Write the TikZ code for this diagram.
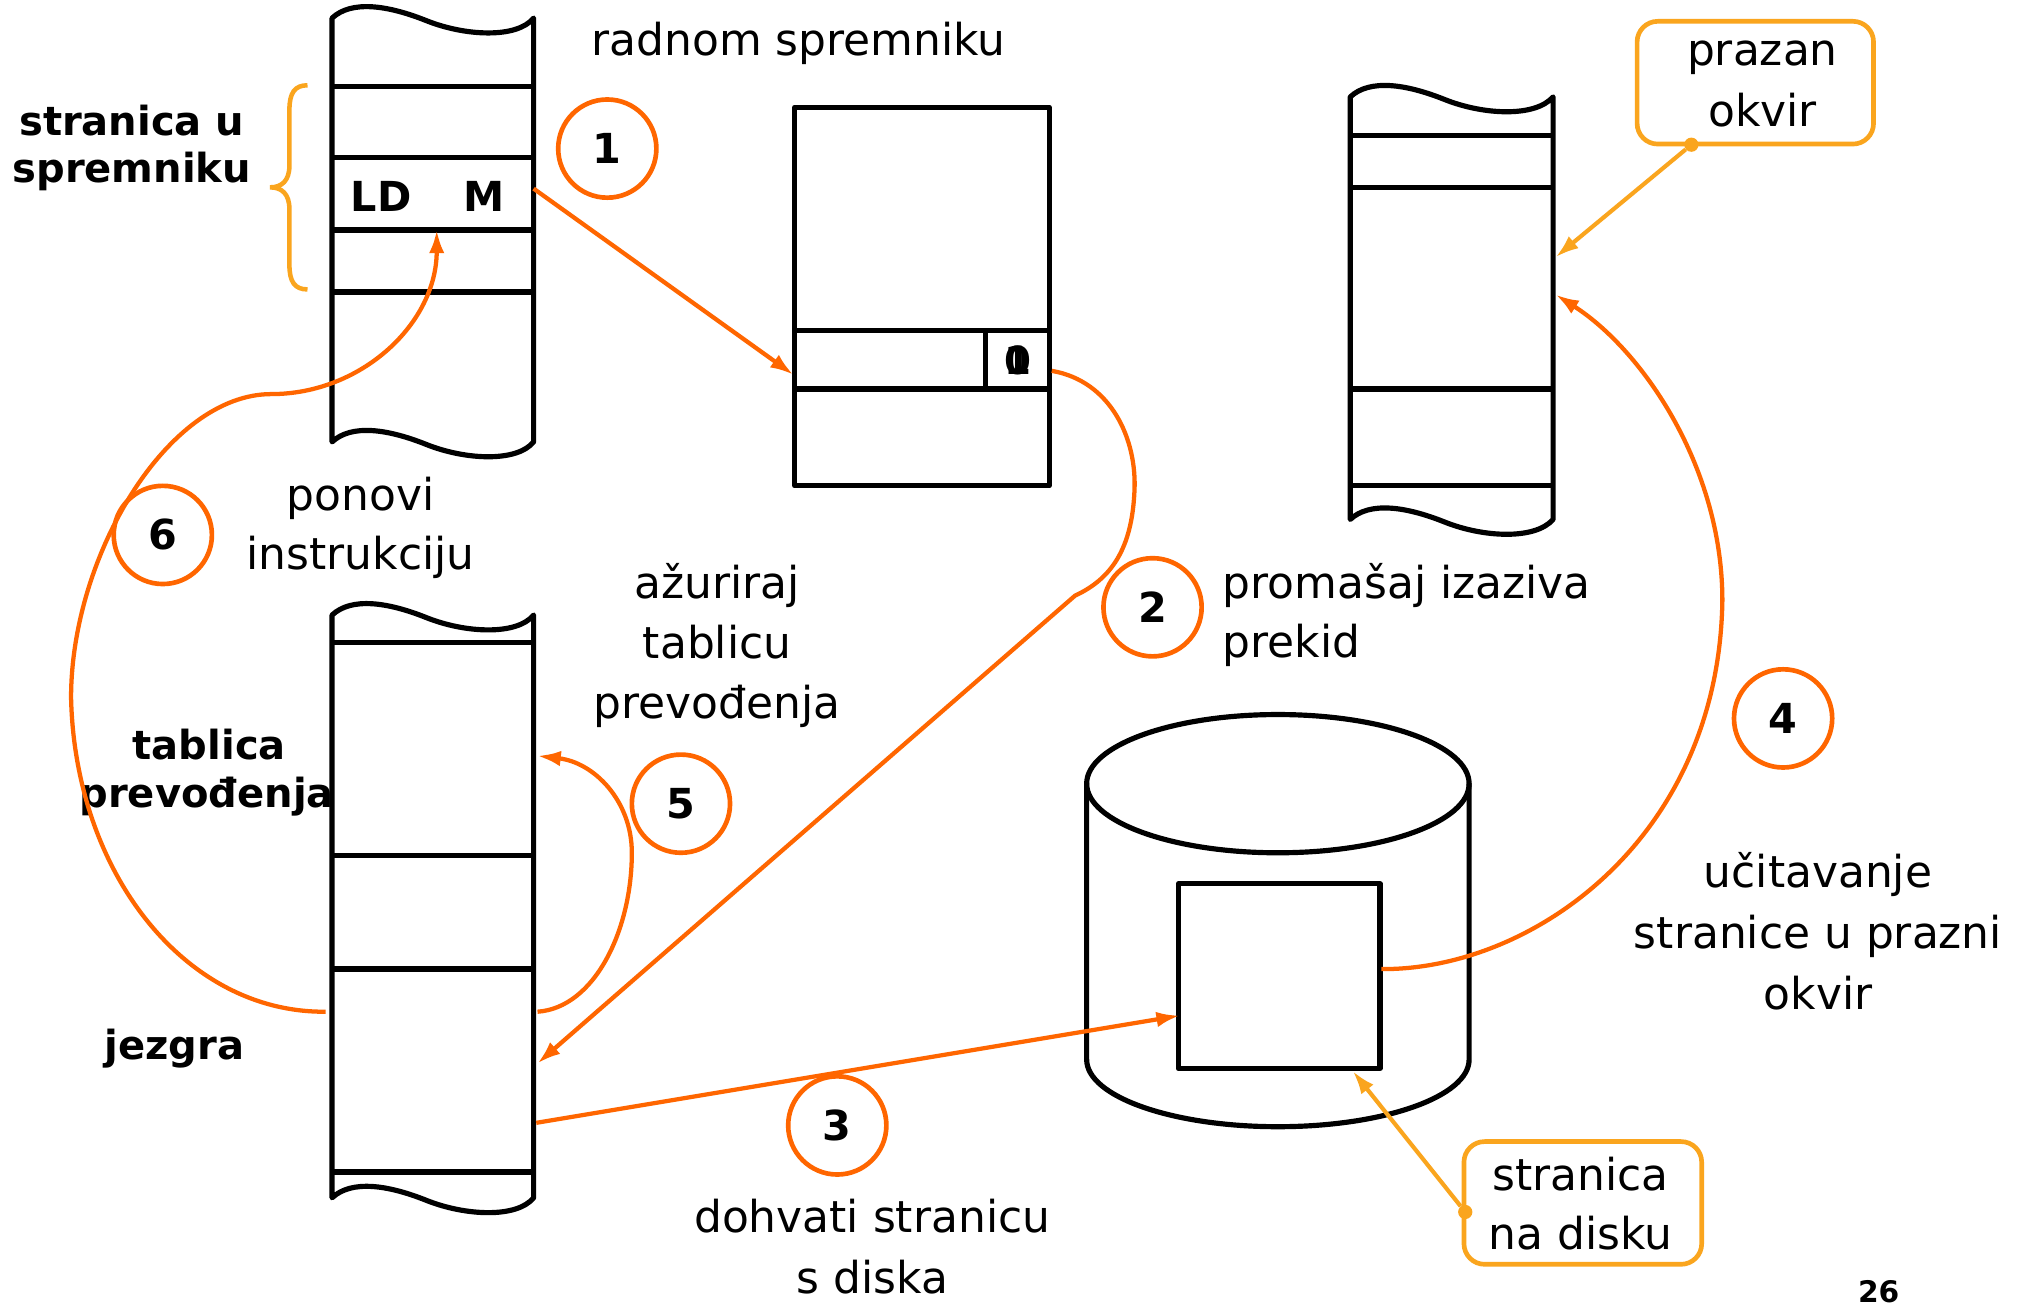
\documentclass[tikz,border=0pt]{standalone}
\usepackage{fontspec}
\setmainfont{DejaVu Sans}
\usetikzlibrary{arrows.meta,calc}
\definecolor{arr}{RGB}{255,102,0}
\definecolor{boxor}{RGB}{250,165,30}
\begin{document}
\begin{tikzpicture}[x=1pt,y=-1pt,
  mem/.style={draw=black,line width=4pt,line join=round},
  conn/.style={draw=arr,line width=3.3pt,-{Latex[length=18pt,width=12pt]}},
  hint/.style={draw=boxor,line width=3.2pt,-{Latex[length=18pt,width=12pt]}},
  numc/.style={circle,draw=arr,line width=3.6pt,minimum size=76pt,inner sep=0pt,font=\fontsize{32}{38}\selectfont\bfseries},
  txt/.style={anchor=base,inner sep=0pt,font=\fontsize{34}{40}\selectfont},
  btxt/.style={anchor=base,inner sep=0pt,font=\fontsize{31}{37}\selectfont\bfseries},
  notebox/.style={draw=boxor,line width=3.6pt,rounded corners=16pt,inner sep=0pt},
  dot/.style={circle,fill=boxor,inner sep=0pt,minimum size=11pt}]

\fill[white] (0,0) rectangle (1568,1008);
\useasboundingbox (0,0) rectangle (1568,1008);

% ---------- column 1 : page in memory ----------
\draw[mem] (257,14) .. controls (272,0) and (300,4) .. (330,16) .. controls (360,28) and (400,30) .. (413,14)
  -- (413,342) .. controls (400,358) and (360,356) .. (330,344) .. controls (300,332) and (272,328) .. (257,342) -- cycle;
\foreach \yy in {67,122,178,226} \draw[mem] (257,\yy) -- (413,\yy);
\node[btxt,font=\fontsize{32}{38}\selectfont\bfseries] (ld) at (295,164) {LD};
\node[btxt,font=\fontsize{32}{38}\selectfont\bfseries] (mm) at (375,164) {M};
\coordinate (ldout) at (413,146);
\coordinate (ldin) at (338,178);

% brace
\draw[boxor,line width=3.5pt] (238,66) .. controls (228,66) and (224,72) .. (224,85) -- (224,128)
  .. controls (224,140) and (218,145) .. (209,145) .. controls (218,145) and (224,150) .. (224,162)
  -- (224,205) .. controls (224,218) and (228,224) .. (238,224);
\node[btxt] (sus1) at (102,105) {stranica u};
\node[btxt] (sus2) at (102,141) {spremniku};

% ---------- box 2 : page table entry ----------
\draw[mem] (615,83) rectangle (812,376);
\draw[mem] (615,256) -- (812,256);
\draw[mem] (615,301) -- (812,301);
\draw[mem] (763,256) -- (763,301);
\node[inner sep=0pt,font=\fontsize{30}{36}\selectfont\bfseries] (bit0) at (787.5,279) {0};
\node[inner sep=0pt,font=\fontsize{30}{36}\selectfont\bfseries] (bit1) at (787.5,279) {1};
\coordinate (rowin) at (614,290);
\coordinate (rowout) at (814,287);
\node[txt] (rs) at (618,43) {radnom spremniku};

% ---------- column 3 : frames ----------
\draw[mem] (1045,75) .. controls (1060,61) and (1088,65) .. (1118,77) .. controls (1148,89) and (1188,91) .. (1202,75)
  -- (1202,402) .. controls (1188,418) and (1148,416) .. (1118,404) .. controls (1088,392) and (1060,388) .. (1045,402) -- cycle;
\foreach \yy in {105,145,301,376} \draw[mem] (1045,\yy) -- (1202,\yy);
\coordinate (frin1) at (1204,199);
\coordinate (frin2) at (1204,228);

\node[notebox,minimum width=183pt,minimum height=95pt] (pz) at (1358.5,64) {};
\node[txt] (pz1) at (1364,51) {prazan};
\node[txt] (pz2) at (1364,98) {okvir};
\node[dot] (pzd) at (1309,112) {};
\draw[hint] (pzd) -- (frin1);

% ---------- column 2 : kernel ----------
\draw[mem] (257,476) .. controls (272,462) and (300,466) .. (330,478) .. controls (360,490) and (400,492) .. (413,476)
  -- (413,927) .. controls (400,943) and (360,941) .. (330,929) .. controls (300,917) and (272,913) .. (257,927) -- cycle;
\foreach \yy in {497,662,750,907} \draw[mem] (257,\yy) -- (413,\yy);
\node[btxt] (tp1) at (162,588) {tablica};
\node[btxt] (tp2) at (160,625) {prevođenja};
\node[btxt] (jz) at (135,820) {jezgra};
\coordinate (kout2) at (416,823);
\coordinate (kout3) at (415,869);
\coordinate (kout5) at (416,783);
\coordinate (kin5) at (416,585);
\coordinate (kout6) at (252,783);

% ---------- disk ----------
\draw[mem] (841,606) -- (841,820) arc[start angle=180,end angle=0,x radius=148,y radius=52] -- (1137,606);
\draw[mem] (989,606.5) ellipse [x radius=148, y radius=53.5];
\node[mem,draw,minimum width=156pt,minimum height=143pt,inner sep=0pt] (dpage) at (990,755.5) {};
\coordinate (din3) at (913,786);
\coordinate (dout4) at (1069,750);
\coordinate (dbot) at (1047,829);

\node[notebox,minimum width=184pt,minimum height=95pt] (nd) at (1225,931) {};
\node[txt] (nd1) at (1223,921) {stranica};
\node[txt] (nd2) at (1223,967) {na disku};
\node[dot] (ndd) at (1134,938) {};
\draw[hint] (ndd) -- (dbot);

% ---------- connectors ----------
\draw[conn] (ldout) -- (rowin);
\coordinate (j2) at (832,461);
\draw[conn] (rowout) .. controls (860,295) and (880,340) .. (878,380) .. controls (876,425) and (860,448) .. (j2) -- (kout2);
\draw[conn] (kout3) -- (din3);
\draw[conn] (dout4) .. controls (1185,751) and (1330,650) .. (1333,465) .. controls (1333,360) and (1270,270) .. (frin2);
\draw[conn] (kout5) .. controls (460,780) and (489,720) .. (489,660) .. controls (489,620) and (460,590) .. (kin5);
\draw[conn] (kout6) .. controls (143,784) and (58,675) .. (55,540) .. controls (55,430) and (130,305) .. (210,305)
  .. controls (280,305) and (338,250) .. (ldin);

% ---------- step circles ----------
\node[numc] (n1) at (470,115) {1};
\node[numc] (n2) at (892,470) {2};
\node[numc] (n3) at (648,871) {3};
\node[numc] (n4) at (1380,556) {4};
\node[numc] (n5) at (527,622) {5};
\node[numc] (n6) at (126,414) {6};

% ---------- texts ----------
\node[txt] (po1) at (279,395) {ponovi};
\node[txt] (po2) at (279,441) {instrukciju};
\node[txt] (az1) at (555,463) {ažuriraj};
\node[txt] (az2) at (555,510) {tablicu};
\node[txt] (az3) at (555,556) {prevođenja};
\node[txt,anchor=base west] (pr1) at (946,463) {promašaj izaziva};
\node[txt,anchor=base west] (pr2) at (946,509) {prekid};
\node[txt] (uc1) at (1407,687) {učitavanje};
\node[txt] (uc2) at (1407,734) {stranice u prazni};
\node[txt] (uc3) at (1407,781) {okvir};
\node[txt] (dh1) at (675,954) {dohvati stranicu};
\node[txt] (dh2) at (675,1001) {s diska};
\node[anchor=base,inner sep=0pt,font=\fontsize{23}{28}\selectfont\bfseries] (pg) at (1454,1008) {26};
\end{tikzpicture}
\end{document}
